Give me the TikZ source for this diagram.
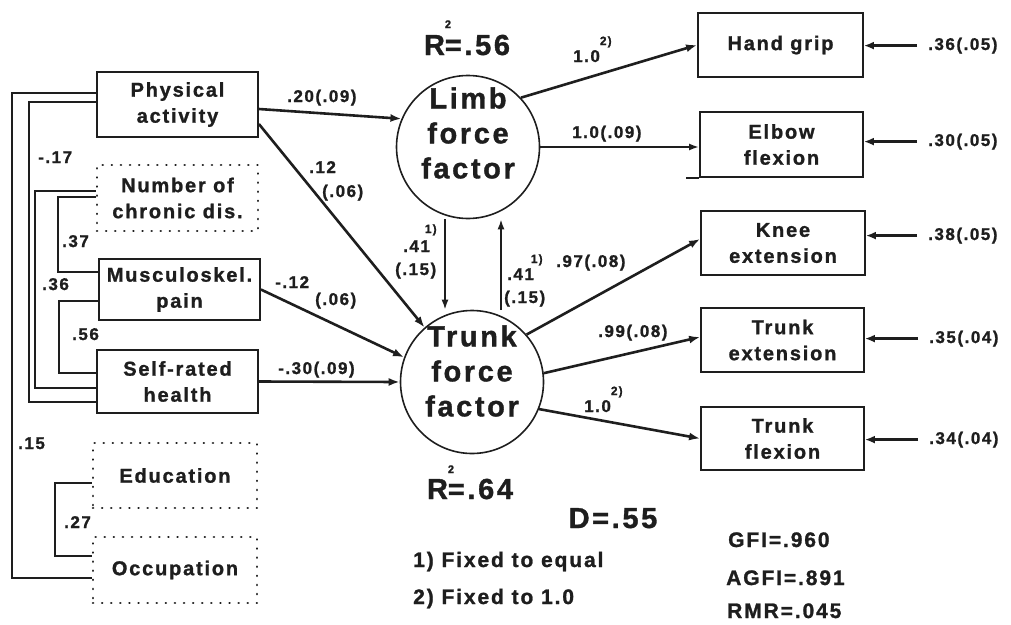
\documentclass[tikz,border=0pt]{standalone}
\usepackage{fontspec}
\setmainfont{Liberation Sans}[LetterSpace=9, BoldFeatures={FakeBold=1.2}]
\usetikzlibrary{arrows.meta}
\definecolor{ink}{RGB}{30,30,30}
\newcommand\fsz[2]{\fontsize{#1}{#2}\selectfont}
\newcommand\supsm[2]{\raisebox{#1}{\fsz{12}{12}#2}}
\begin{document}
\begin{tikzpicture}[x=1pt,y=-1pt,
  box/.style={draw=ink, line width=1.8pt, rectangle, inner sep=0pt, align=center,
    font=\bfseries\fsz{20}{26}, text=ink},
  dotbox/.style={box, dash pattern=on 0.1pt off 9pt, line cap=round, line width=2.6pt},
  latent/.style={circle, draw=ink, line width=1.6pt, minimum size=143pt, inner sep=0pt},
  lab/.style={font=\bfseries\fsz{17}{20}, text=ink, inner sep=0pt, anchor=base west},
  big/.style={font=\bfseries\fsz{29}{35}, text=ink, inner sep=0pt},
  note/.style={font=\bfseries\fsz{21}{24}, text=ink, inner sep=0pt, anchor=base west},
  patharr/.style={draw=ink, line width=2.6pt, -{Latex[length=11pt,width=8pt]}},
  thinarr/.style={draw=ink, line width=1.9pt, -{Latex[length=10pt,width=7pt]}},
  errarr/.style={draw=ink, line width=2.8pt, -{Latex[length=10pt,width=8pt]}},
  corr/.style={draw=ink, line width=1.9pt}]
\useasboundingbox (0,0) rectangle (1011,624);

% left boxes
\node[box, minimum width=161pt, minimum height=65pt] (pa) at (177.5,104.5) {Physical\\activity};
\node[dotbox, minimum width=161pt, minimum height=66pt] (ncd) at (177.5,198) {Number of\\chronic dis.};
\node[box, minimum width=161pt, minimum height=61pt] (mp) at (179.5,289.5) {Musculoskel.\\pain};
\node[box, minimum width=161pt, minimum height=63pt] (srh) at (177.5,381.5) {Self-rated\\health};
\node[dotbox, minimum width=164pt, minimum height=65pt] (edu) at (175,475.5) {Education};
\node[dotbox, minimum width=164pt, minimum height=66pt] (occ) at (175,570) {Occupation};

% right boxes
\node[box, minimum width=165pt, minimum height=64pt] (hg) at (780.5,45) {Hand grip};
\node[box, minimum width=163pt, minimum height=65pt] (eb) at (781.5,144.5) {Elbow\\flexion};
\node[box, minimum width=164pt, minimum height=64pt] (kn) at (783,243) {Knee\\extension};
\node[box, minimum width=163pt, minimum height=64pt] (te) at (782.5,340) {Trunk\\extension};
\node[box, minimum width=163pt, minimum height=63pt] (tf) at (782.5,438.5) {Trunk\\flexion};
\draw[corr] (eb.south west) -- ++(-13,0);

% latent factors
\node[latent] (limb) at (468,147) {};
\node[big, align=center] (limbt) at ([yshift=14pt]limb.center) {Limb\\force\\factor};
\node[latent] (trunk) at (472,382) {};
\node[big, align=center] (trunkt) at ([yshift=11pt]trunk.center) {Trunk\\force\\factor};

% R squared and others
\node[big, anchor=base] (r1) at (467,55) {R\rlap{\raisebox{27pt}{\fsz{11}{11}2}}=.56};
\node[big, anchor=base] (r2) at (470,499) {R\rlap{\raisebox{26pt}{\fsz{11}{11}2}}=.64};
\node[big, anchor=base] (dd) at (613,528) {D=.55};
\node[note] (n1) at (413,567) {1) Fixed to equal};
\node[note] (n2) at (413,604) {2) Fixed to 1.0};
\node[note] (gfi) at (728,547) {GFI=.960};
\node[note] (agfi) at (726,585) {AGFI=.891};
\node[note] (rmr) at (727,618) {RMR=.045};

% correlations
\draw[corr] ([yshift=11.5pt]pa.west) -- ++(-84,0) |- ([yshift=-8pt]occ.west);
\draw[corr] ([yshift=2.5pt]pa.west) -- ++(-67,0) |- ([yshift=-20.5pt]srh.west);
\draw[corr] ([yshift=7pt]ncd.west) -- ++(-61,0) |- ([yshift=-6.5pt]srh.west);
\draw[corr] ([yshift=1pt]ncd.west) -- ++(-38,0) |- ([yshift=17.5pt]mp.west);
\draw[corr] ([yshift=-11.5pt]mp.west) -- ++(-39,0) |- ([yshift=8.5pt]srh.west);
\draw[corr] ([yshift=-7.5pt]edu.west) -- ++(-37,0) |- ([yshift=14pt]occ.west);
\node[lab] (c1) at (38,163) {-.17};
\node[lab] (c2) at (62,247) {.37};
\node[lab] (c3) at (42,290) {.36};
\node[lab] (c4) at (72,340) {.56};
\node[lab] (c5) at (18,449) {.15};
\node[lab] (c6) at (64,528) {.27};

% structural paths
\draw[patharr] ([yshift=-4.5pt]pa.east) -- (limb.157);
\draw[patharr] ([yshift=-19.5pt]pa.east) -- (trunk.131);
\draw[patharr] (mp.east) -- (trunk.160);
\draw[patharr] (srh.east) -- (trunk.west);
\draw[thinarr] ([xshift=-23pt]limb.south) -- ([xshift=-27pt]trunk.north);
\draw[thinarr] ([xshift=29pt]trunk.north) -- ([xshift=33pt]limb.south);
\node[lab] (p1) at (287,102) {.20(.09)};
\node[lab] (p2a) at (309,173) {.12};
\node[lab] (p2b) at (322,197) {(.06)};
\node[lab] (p3a) at (275,288) {-.12};
\node[lab] (p3b) at (315,305) {(.06)};
\node[lab] (p4) at (278,374) {-.30(.09)};
\node[lab] (p5a) at (403,252) {.41\rlap{\kern-5pt\supsm{19pt}{1)}}};
\node[lab] (p5b) at (395,275) {(.15)};
\node[lab] (p6a) at (507,280) {.41\rlap{\kern-3pt\supsm{17pt}{1)}}};
\node[lab] (p6b) at (504,303) {(.15)};

% loadings
\draw[patharr] (limb.43) -- (hg.west);
\draw[thinarr] (limb.east) -- (limb.east -| eb.west);
\draw[patharr] (trunk.41) -- ([yshift=4pt]kn.west);
\draw[patharr] (trunk.7) -- ([yshift=3pt]te.west);
\draw[patharr] (trunk.-22) -- (tf.west);
\node[lab] (l1) at (573,62) {1.0\supsm{17pt}{2)}};
\node[lab] (l2) at (572,138) {1.0(.09)};
\node[lab] (l3) at (556,267) {.97(.08)};
\node[lab] (l4) at (598,337) {.99(.08)};
\node[lab] (l5) at (584,412) {1.0\supsm{17pt}{2)}};

% error terms
\node[lab] (e1) at (928,50) {.36(.05)};
\node[lab] (e2) at (928,146) {.30(.05)};
\node[lab] (e3) at (928,240) {.38(.05)};
\node[lab] (e4) at (929,343) {.35(.04)};
\node[lab] (e5) at (929,444) {.34(.04)};
\draw[errarr] ([xshift=-11pt]e1.west) -- (e1.west -| hg.east);
\draw[errarr] ([xshift=-11pt]e2.west) -- (e2.west -| eb.east);
\draw[errarr] ([xshift=-11pt]e3.west) -- (e3.west -| kn.east);
\draw[errarr] ([xshift=-11pt]e4.west) -- (e4.west -| te.east);
\draw[errarr] ([xshift=-11pt]e5.west) -- (e5.west -| tf.east);
\end{tikzpicture}
\end{document}
